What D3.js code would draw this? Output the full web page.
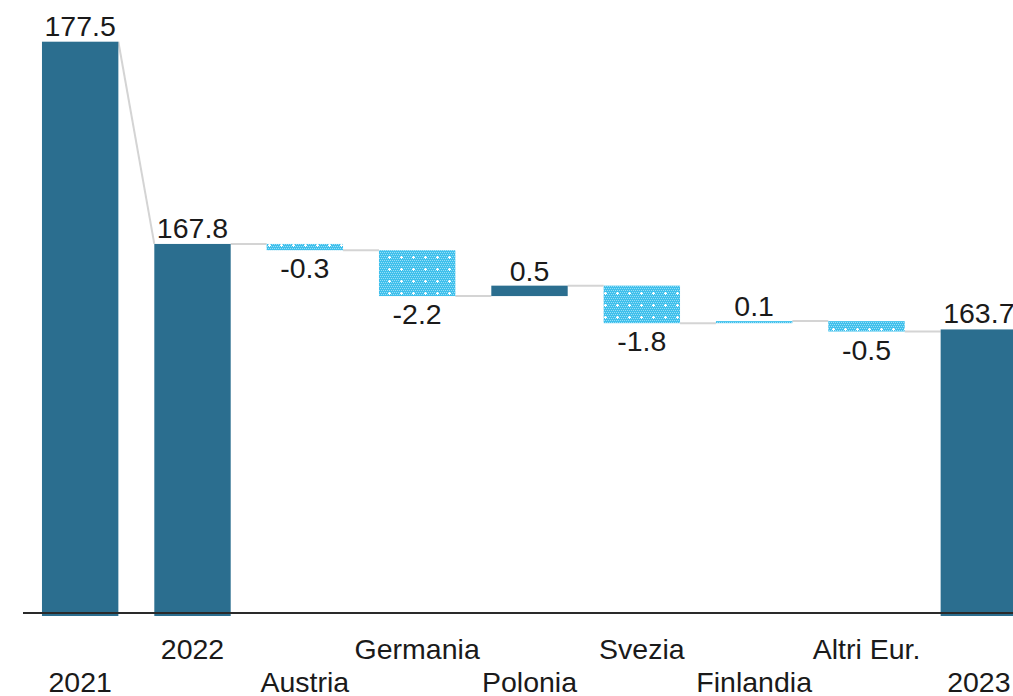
<!DOCTYPE html>
<html>
<head>
<meta charset="utf-8">
<script src="https://cdn.jsdelivr.net/npm/d3@7"></script>
<style>
  html, body { margin: 0; padding: 0; background: #ffffff; }
  svg { display: block; }
  text { font-family: "Liberation Sans", Arial, sans-serif; fill: #1a1a1a; }
</style>
</head>
<body>
<svg id="chart" width="1013" height="696"></svg>
<script>
// ---- data ----
const categories = ["2021", "2022", "Austria", "Germania", "Polonia", "Svezia", "Finlandia", "Altri Eur.", "2023"];
const totals = { "2021": 177.5, "2022": 167.8, "2023": 163.7 };
const deltaCategories = ["Austria", "Germania", "Polonia", "Svezia", "Finlandia", "Altri Eur."];
const deltaValues = [-0.3, -2.2, 0.5, -1.8, 0.1, -0.5];
const labelTexts = ["177.5", "167.8", "-0.3", "-2.2", "0.5", "-1.8", "0.1", "-0.5", "163.7"];

// ---- build bars ----
const bars = [];
let running = totals["2022"];
categories.forEach((c, i) => {
  if (c in totals) {
    bars.push({ cat: c, type: "total", start: null, end: totals[c], label: labelTexts[i] });
    if (c === "2022") running = totals[c];
  } else {
    const d = deltaValues[deltaCategories.indexOf(c)];
    bars.push({ cat: c, type: "delta", start: running, end: running + d, delta: d, label: labelTexts[i] });
    running += d;
  }
});

const W = 1013, H = 696;
const svg = d3.select("#chart");

const x = d3.scaleBand().domain(categories).range([24, 1035]).paddingInner(0.32).paddingOuter(0.16);
const y = d3.scaleLinear().domain([150.1, 179.5]).range([613, 0]);
const base = y(150.1);

// pattern
const defs = svg.append("defs");
const pat = defs.append("pattern").attr("id", "dots").attr("patternUnits", "userSpaceOnUse")
  .attr("width", 12).attr("height", 12);
pat.append("rect").attr("width", 12).attr("height", 12).attr("fill", "#3fc0ec");
for (let i = 0; i < 12; i += 2) for (let j = 0; j < 12; j += 2) {
  pat.append("rect").attr("x", i + ((j / 2) % 2)).attr("y", j).attr("width", 1).attr("height", 1).attr("fill", "#98def6");
}
pat.append("rect").attr("x", 5).attr("y", 4).attr("width", 1).attr("height", 3).attr("fill", "#ffffff");
pat.append("rect").attr("x", 4).attr("y", 5).attr("width", 3).attr("height", 1).attr("fill", "#ffffff");

const dark = "#2b6e8f";
const darkDeltas = ["Polonia"];

// connectors
const conn = svg.append("g").attr("stroke", "#d4d4d4").attr("stroke-width", 2).attr("fill", "none");
for (let i = 0; i < bars.length - 1; i++) {
  const a = bars[i], b = bars[i + 1];
  const x1 = x(a.cat) + x.bandwidth();
  const x2 = x(b.cat);
  const y1 = y(a.end);
  const y2 = (a.type === "total" && b.type === "total") ? y(b.end) : y1;
  conn.append("line").attr("x1", x1).attr("y1", y1).attr("x2", x2).attr("y2", y2);
}

// bars
svg.append("g").selectAll("rect").data(bars).join("rect")
  .attr("x", d => x(d.cat))
  .attr("width", x.bandwidth())
  .attr("y", d => d.type === "total" ? y(d.end) : y(Math.max(d.start, d.end)))
  .attr("height", d => d.type === "total" ? base + 3 - y(d.end) : Math.abs(y(d.start) - y(d.end)))
  .attr("fill", d => d.type === "total" || darkDeltas.includes(d.cat) ? dark : "url(#dots)");

// axis line
svg.append("line").attr("x1", 23).attr("x2", W).attr("y1", base).attr("y2", base)
  .attr("stroke", "#2a2a2a").attr("stroke-width", 2);

// value labels
svg.append("g").selectAll("text").data(bars).join("text")
  .attr("x", d => x(d.cat) + x.bandwidth() / 2)
  .attr("y", d => {
    if (d.type === "total") return y(d.end) - 6;
    if (d.delta >= 0) return y(d.end) - 5;
    return y(d.end) + 28;
  })
  .attr("text-anchor", "middle")
  .attr("font-size", 28.5)
  .text(d => d.label);

// category labels (staggered)
svg.append("g").selectAll("text").data(categories).join("text")
  .attr("x", d => x(d) + x.bandwidth() / 2)
  .attr("y", (d, i) => i % 2 === 0 ? 692 : 659)
  .attr("text-anchor", "middle")
  .attr("font-size", 28.5)
  .text(d => d);
</script>
</body>
</html>
